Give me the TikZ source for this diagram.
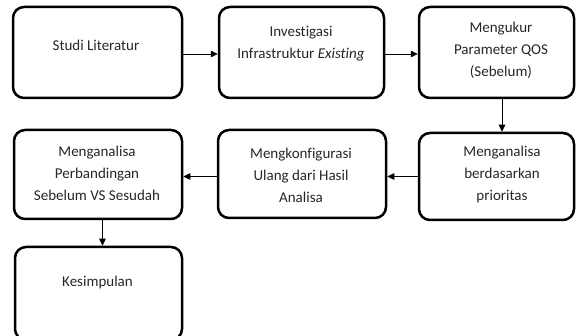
\documentclass[tikz,border=0pt]{standalone}
\usepackage{fontspec}
\setmainfont{Carlito}[Ligatures={NoCommon}]
\usetikzlibrary{arrows.meta}
\begin{document}
\begin{tikzpicture}[x=1pt,y=-1pt,
  box/.style={draw=black,line width=2.5pt,rounded corners=11pt,inner sep=0pt},
  txt/.style={align=center,font=\fontsize{15}{22}\selectfont,text=black!85,inner sep=0pt},
  arr/.style={draw=black,line width=0.8pt,-{Triangle[length=7pt,width=6.5pt]}}]
\useasboundingbox (0,0) rectangle (576,336);
% boxes
\node[box,minimum width=169pt,minimum height=91pt] (b1) at (97.5,52.5) {};
\node[box,minimum width=165pt,minimum height=91pt] (b2) at (301.5,52.5) {};
\node[box,minimum width=155pt,minimum height=91pt] (b3) at (496.5,52.5) {};
\node[box,minimum width=168pt,minimum height=89pt] (b4) at (98,174.5) {};
\node[box,minimum width=168pt,minimum height=88pt] (b5) at (302,174) {};
\node[box,minimum width=155pt,minimum height=87pt] (b6) at (496.5,176.5) {};
\node[box,minimum width=167pt,minimum height=93pt] (b7) at (98.5,293.5) {};
% texts
\node[txt] (t1) at (96,45) {Studi Literatur};
\node[txt] (t2) at (301,44) {Investigasi\\Infrastruktur \textit{Existing}};
\node[txt] (t3) at (501,50) {Mengukur\\Parameter QOS\\(Sebelum)};
\node[txt] (t4) at (97,173) {Menganalisa\\Perbandingan\\Sebelum VS Sesudah};
\node[txt] (t5) at (301,175) {Mengkonfigurasi\\Ulang dari Hasil\\Analisa};
\node[txt] (t6) at (502,175) {Menganalisa\\berdasarkan\\prioritas};
\node[txt] (t7) at (97.5,283) {Kesimpulan};
% connectors
\coordinate (c3) at ([xshift=5.5pt]b3.south);
\coordinate (c4) at ([xshift=4.5pt]b4.south);
\draw[arr] ([yshift=-1.5pt]b1.east) -- ([yshift=-1.5pt]b2.west);
\draw[arr] ([yshift=-1.5pt]b2.east) -- ([yshift=-1.5pt]b3.west);
\draw[arr] (c3) -- (c3 |- b6.north);
\draw[arr] (b6.west) -- (b6.west -| b5.east);
\draw[arr] (b6.west -| b5.west) -- (b6.west -| b4.east);
\draw[arr] (c4) -- (c4 |- b7.north);
\end{tikzpicture}
\end{document}
